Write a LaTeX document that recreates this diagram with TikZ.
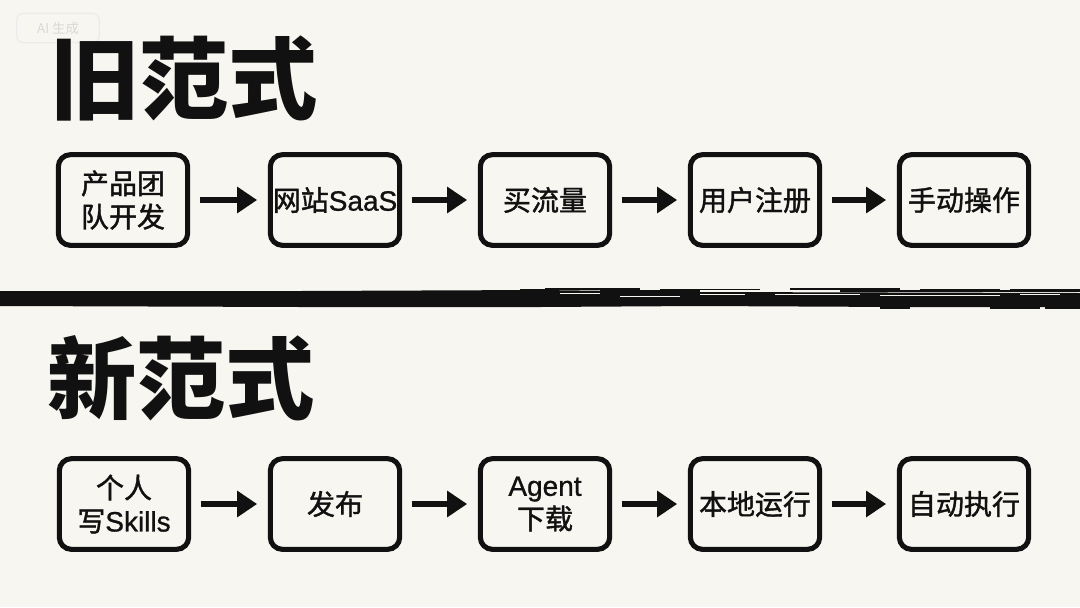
\documentclass[tikz,border=0pt]{standalone}
\usepackage{fontspec}
\setmainfont{Noto Sans CJK SC}
\newfontfamily\boxfont{Noto Sans CJK SC}[FakeBold=1.4]
\newfontfamily\lat{Liberation Sans}[FakeBold=0.9]
\usetikzlibrary{arrows.meta}
\definecolor{bg}{HTML}{F8F6F1}
\definecolor{ink}{HTML}{111111}
\begin{document}
\begin{tikzpicture}[x=0.75pt,y=-0.75pt,
  stepbox/.style={draw=ink, line width=3.8pt, rounded corners=9pt, fill=bg,
    minimum width=97pt, minimum height=68pt, inner sep=0pt, align=center,
    font=\fontsize{21pt}{25pt}\selectfont\boxfont, text=ink},
  flow/.style={draw=ink, line width=5.2pt, -{Triangle[length=15pt,width=19pt]},
    shorten <=7pt, shorten >=8pt},
  title/.style={font=\fontsize{67pt}{72pt}\selectfont\bfseries, text=ink, inner sep=0pt, anchor=west}]
\fill[bg] (0,0) rectangle (1080,607);
\useasboundingbox (0,0) rectangle (1080,607);
% watermark
\node[draw=gray!15, line width=1pt, rounded corners=5pt, text=gray!30,
  font=\fontsize{10pt}{12pt}\selectfont, minimum width=62pt, minimum height=22pt,
  inner sep=0pt] (wm) at (58,28) {AI 生成};
% titles
\node[title] (t1) at (50,78) {旧范式};
\node[title] (t2) at (47,378) {新范式};
% divider
\fill[ink] (0,291) -- (300,291) -- (540,290) -- (700,292) -- (1080,293)
  -- (1080,307) -- (900,307) -- (700,306) -- (540,307) -- (300,307) -- (0,306) -- cycle;
\foreach \a/\b/\y/\w in {520/560/289.5/1.2, 545/640/289/1.5, 660/760/289.5/1.3,
  790/900/289/1.4, 920/1000/289.5/1.2, 1010/1080/289.5/1.5, 600/700/291/1.4, 840/1080/291/1.6}
  \draw[ink, line width=\w pt] (\a,\y) -- (\b,\y);
\foreach \a/\b/\y in {560/600/293.5, 700/745/294, 775/860/294.5, 880/1000/295, 1020/1060/294.5, 620/680/296}
  \draw[bg, line width=0.7pt] (\a,\y) -- (\b,\y);
\foreach \a/\b/\y in {880/910/308, 990/1040/308, 1045/1080/308}
  \draw[ink, line width=0.9pt] (\a,\y) -- (\b,\y);
% row 1
\node[stepbox] (a1) at (123,200) {产品团\\队开发};
\node[stepbox] (a2) at (335,200) {网站{\lat SaaS}};
\node[stepbox] (a3) at (545,200) {买流量};
\node[stepbox] (a4) at (755,200) {用户注册};
\node[stepbox] (a5) at (964,200) {手动操作};
\draw[flow] (a1) -- (a2);
\draw[flow] (a2) -- (a3);
\draw[flow] (a3) -- (a4);
\draw[flow] (a4) -- (a5);
% row 2
\node[stepbox] (b1) at (124,504) {个人\\写{\lat Skills}};
\node[stepbox] (b2) at (335,504) {发布};
\node[stepbox] (b3) at (545,504) {{\lat Agent}\\下载};
\node[stepbox] (b4) at (755,504) {本地运行};
\node[stepbox] (b5) at (964,504) {自动执行};
\draw[flow] (b1) -- (b2);
\draw[flow] (b2) -- (b3);
\draw[flow] (b3) -- (b4);
\draw[flow] (b4) -- (b5);
\end{tikzpicture}
\end{document}
